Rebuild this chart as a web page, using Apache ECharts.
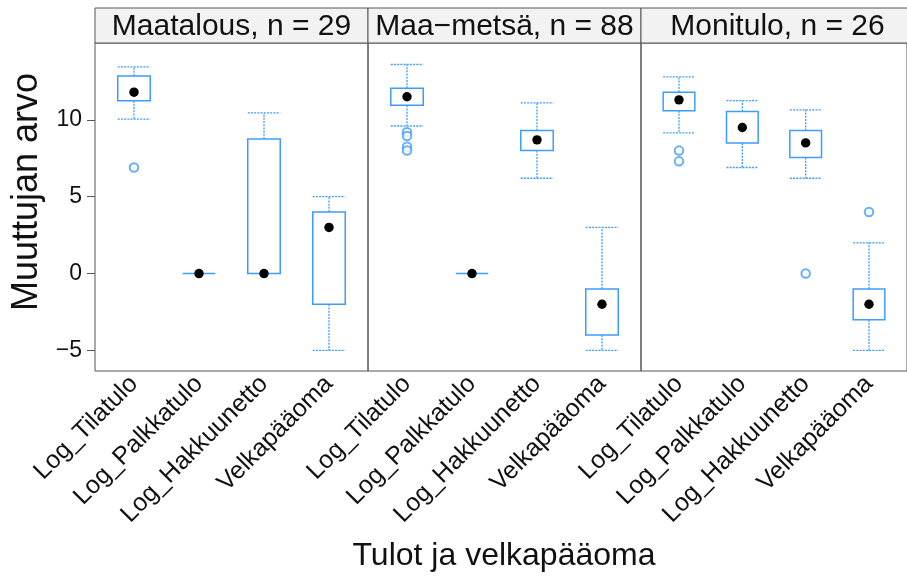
<!DOCTYPE html>
<html>
<head>
<meta charset="utf-8">
<script src="https://cdn.jsdelivr.net/npm/echarts@6/dist/echarts.min.js"></script>
<style>
html,body{margin:0;padding:0;background:#fff;}
#chart{width:907px;height:578px;}
</style>
</head>
<body>
<div id="chart"></div>
<script>
// ---- Data ----
const categories = ['Log_Tilatulo', 'Log_Palkkatulo', 'Log_Hakkuunetto', 'Velkapääoma'];
const panelTitles = ['Maatalous, n = 29', 'Maa\u2212metsä, n = 88', 'Monitulo, n = 26'];
const yTicks = [-5, 0, 5, 10];
// [lower whisker, Q1, median, Q3, upper whisker] per category
const maatalousStats = [
  [10.05, 11.25, 11.8, 12.85, 13.45],
  [0, 0, 0, 0, 0],
  [0, 0, 0, 8.75, 10.45],
  [-5, -2, 3, 4, 5]
];
const maaMetsaStats = [
  [9.6, 10.95, 11.5, 12.05, 13.6],
  [0, 0, 0, 0, 0],
  [6.2, 8.0, 8.7, 9.3, 11.1],
  [-5, -4, -2, -1, 3]
];
const monituloStats = [
  [9.15, 10.6, 11.3, 11.8, 12.8],
  [6.9, 8.5, 9.5, 10.55, 11.25],
  [6.2, 7.55, 8.5, 9.3, 10.65],
  [-5, -3, -2, -1, 2]
];
// outliers: [category index (1-based), value]
const maatalousOutliers = [[1, 6.9]];
const maaMetsaOutliers = [[1, 9.2], [1, 8.95], [1, 8.25], [1, 8.0]];
const monituloOutliers = [[1, 8.0], [1, 7.3], [3, 0], [4, 4]];

const allStats = [maatalousStats, maaMetsaStats, monituloStats];
const allOutliers = [maatalousOutliers, maaMetsaOutliers, monituloOutliers];

// ---- Layout ----
const panelLeft = 95, panelW = 273, panelTop = 43, panelH = 328, stripH = 35;
const blue = '#3d9cff';
const frame = '#555';
const FONT = '"Liberation Sans", Arial, sans-serif';

const chart = echarts.init(document.getElementById('chart'), null, {renderer: 'canvas'});

const grids = [], xAxes = [], yAxes = [], series = [], graphics = [];

function renderBox(params, api) {
  const x = api.value(0);
  const lo = api.value(1), q1 = api.value(2), med = api.value(3), q3 = api.value(4), hi = api.value(5);
  const cx = api.coord([x, med])[0];
  const yLo = api.coord([x, lo])[1];
  const yQ1 = api.coord([x, q1])[1];
  const yMed = api.coord([x, med])[1];
  const yQ3 = api.coord([x, q3])[1];
  const yHi = api.coord([x, hi])[1];
  const bw = api.size([0.5, 0])[0];
  const hw = bw / 2;
  const dashStyle = {stroke: blue, lineWidth: 1.3, lineDash: [2, 1.2], fill: null};
  const children = [];
  if (hi > q3) {
    children.push({type: 'line', shape: {x1: cx, y1: yQ3, x2: cx, y2: yHi}, style: dashStyle});
    children.push({type: 'line', shape: {x1: cx - hw, y1: yHi, x2: cx + hw, y2: yHi}, style: dashStyle});
  }
  if (lo < q1) {
    children.push({type: 'line', shape: {x1: cx, y1: yQ1, x2: cx, y2: yLo}, style: dashStyle});
    children.push({type: 'line', shape: {x1: cx - hw, y1: yLo, x2: cx + hw, y2: yLo}, style: dashStyle});
  }
  if (q3 > q1) {
    children.push({type: 'rect', shape: {x: cx - hw, y: yQ3, width: bw, height: yQ1 - yQ3},
      style: {stroke: blue, lineWidth: 1.5, fill: 'none'}});
  } else {
    children.push({type: 'line', shape: {x1: cx - hw, y1: yQ1, x2: cx + hw, y2: yQ1},
      style: {stroke: blue, lineWidth: 1.5}});
  }
  children.push({type: 'circle', shape: {cx: cx, cy: yMed, r: 4.7}, style: {fill: '#000'}});
  return {type: 'group', children: children};
}

for (let p = 0; p < 3; p++) {
  const left = panelLeft + p * panelW;
  grids.push({left: left, top: panelTop, width: panelW, height: panelH,
    show: true, borderColor: frame, borderWidth: 1, backgroundColor: 'transparent', containLabel: false});
  xAxes.push({
    gridIndex: p, type: 'value', min: 0.4, max: 4.6,
    splitLine: {show: false}, axisLine: {show: false}, axisTick: {show: false},
    axisLabel: {
      customValues: [1, 2, 3, 4], rotate: 45, margin: 9,
      formatter: v => categories[Math.round(v) - 1],
      fontFamily: FONT, fontSize: 25, color: '#111'
    }
  });
  yAxes.push({
    gridIndex: p, type: 'value', min: -6.34, max: 15.0,
    splitLine: {show: false}, axisLine: {show: false},
    axisTick: {show: p === 0, customValues: yTicks, length: 8, lineStyle: {color: frame}},
    axisLabel: {show: p === 0, customValues: yTicks, margin: 13, fontFamily: FONT, fontSize: 23, color: '#111',
      formatter: v => (v < 0 ? '\u2212' + Math.abs(v) : String(v))}
  });
  series.push({
    type: 'custom', xAxisIndex: p, yAxisIndex: p,
    renderItem: renderBox,
    data: allStats[p].map((s, i) => [i + 1].concat(s)),
    encode: {x: 0, y: [1, 2, 3, 4, 5]},
    clip: false, z: 3
  });
  series.push({
    type: 'scatter', xAxisIndex: p, yAxisIndex: p,
    data: allOutliers[p],
    symbol: 'emptyCircle', symbolSize: 8.5,
    itemStyle: {color: blue, borderColor: blue, borderWidth: 1.6},
    z: 2
  });
  graphics.push({
    type: 'rect', shape: {x: left, y: panelTop - stripH, width: panelW, height: stripH},
    style: {fill: '#f2f2f2', stroke: frame, lineWidth: 1}, z: 1
  });
  graphics.push({
    type: 'text', x: left + panelW / 2, y: panelTop - stripH / 2 + 1,
    style: {text: panelTitles[p], font: '30px ' + FONT, fill: '#111',
      align: 'center', verticalAlign: 'middle', textAlign: 'center', textVerticalAlign: 'middle'}, z: 2
  });
}

graphics.push({
  type: 'text', x: 27, y: 192, rotation: Math.PI / 2,
  style: {text: 'Muuttujan arvo', font: '36px ' + FONT, fill: '#111',
    align: 'center', verticalAlign: 'middle', textAlign: 'center', textVerticalAlign: 'middle'}
});
graphics.push({
  type: 'text', x: 504, y: 556,
  style: {text: 'Tulot ja velkapääoma', font: '32px ' + FONT, fill: '#111',
    align: 'center', verticalAlign: 'middle', textAlign: 'center', textVerticalAlign: 'middle'}
});

chart.setOption({
  animation: false,
  backgroundColor: '#fff',
  grid: grids, xAxis: xAxes, yAxis: yAxes, series: series,
  graphic: {elements: graphics}
});
</script>
</body>
</html>
